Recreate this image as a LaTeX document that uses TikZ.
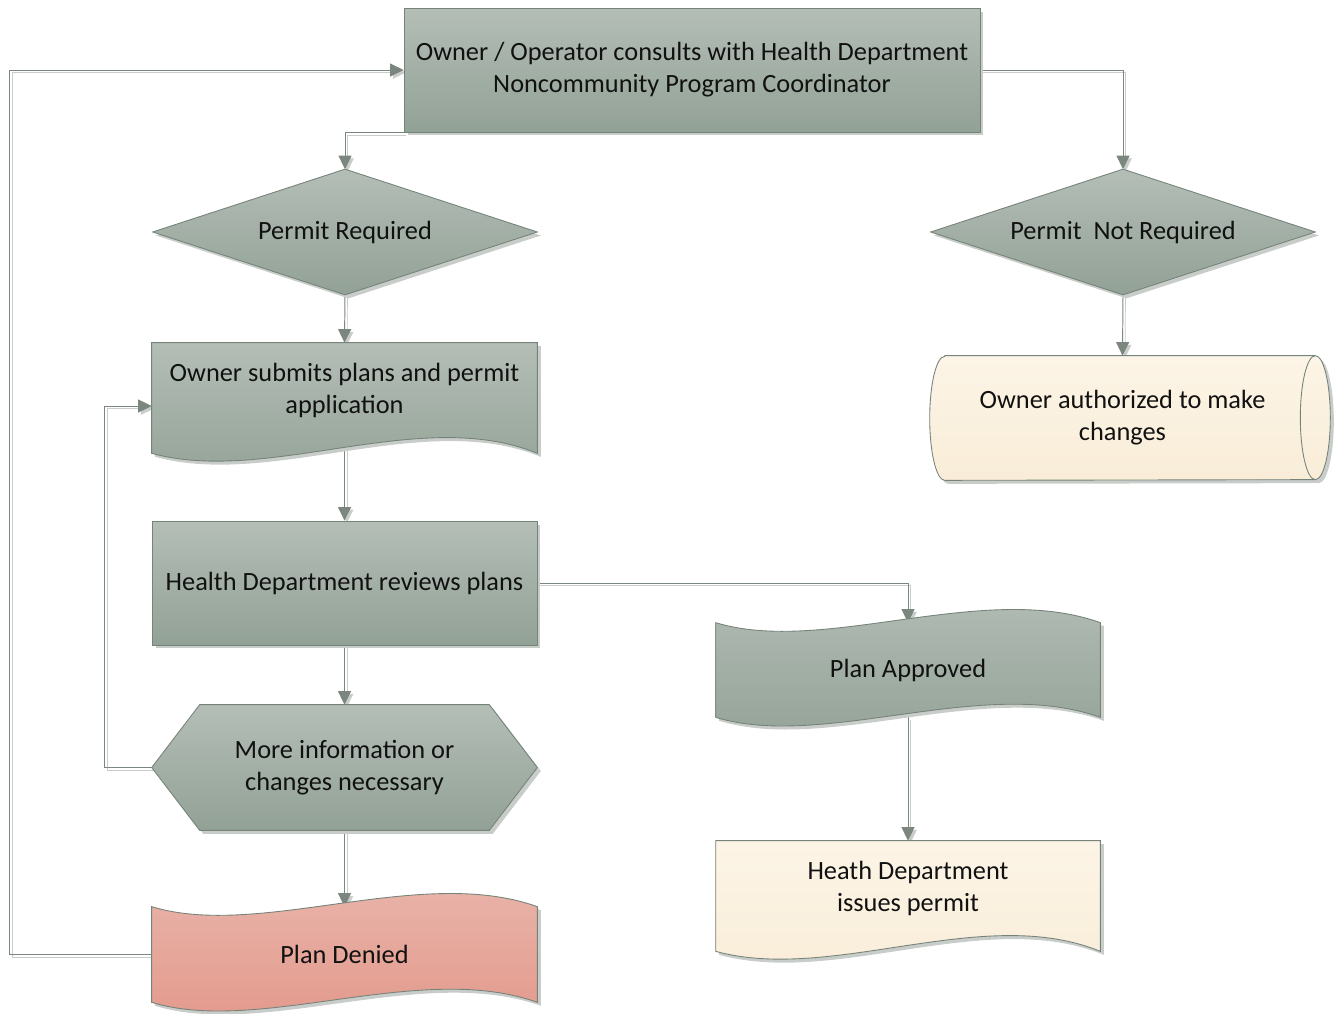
\documentclass[tikz,border=0pt]{standalone}
\usepackage{fontspec}
\setmainfont{Carlito}
\usetikzlibrary{positioning, arrows.meta, calc, shapes.geometric, shadows}
\definecolor{fcInk}{HTML}{111111}
\definecolor{fcEdge}{HTML}{76837A}
\definecolor{fcGrayTop}{HTML}{B4BEB7}
\definecolor{fcGrayBot}{HTML}{92A195}
\definecolor{fcRedTop}{HTML}{EAB7AD}
\definecolor{fcRedBot}{HTML}{E29789}
\definecolor{fcCreamTop}{HTML}{FCF4E6}
\definecolor{fcCreamBot}{HTML}{F9EDD8}
\definecolor{fcShadow}{HTML}{C9CDCA}
\definecolor{fcLine}{HTML}{7B877E}
\pgfdeclarelayer{links}
\pgfdeclarelayer{shapes}
\pgfsetlayers{links,shapes,main}
\tikzset{
  txt/.style      ={align=center, font=\fontsize{15}{18.2}\selectfont, text=fcInk, inner sep=0pt},
  shadowed/.style ={drop shadow={shadow xshift=0.07cm, shadow yshift=-0.07cm, fill=fcShadow, opacity=1}},
  greyfill/.style ={draw=fcEdge, line width=0.5pt, top color=fcGrayTop, bottom color=fcGrayBot, shadowed},
  redfill/.style  ={draw=fcEdge, line width=0.5pt, top color=fcRedTop, bottom color=fcRedBot, shadowed},
  creamfill/.style={draw=fcEdge, line width=0.5pt, top color=fcCreamTop, bottom color=fcCreamBot, shadowed},
  procbox/.style  ={txt, rectangle, greyfill},
  slot/.style     ={txt, rectangle},
  link/.style     ={draw=fcLine, line width=0.55pt, -{Triangle[length=0.27cm,width=0.26cm]},
                    preaction={draw=fcShadow, transform canvas={xshift=0.05cm,yshift=-0.05cm}}},
}
% outlines drawn round an (invisible) slot node
\newcommand{\diashape}[2]{%
  \path[#2] (#1.north) -- (#1.east) -- (#1.south) -- (#1.west) -- cycle;}
\newcommand{\docshape}[2]{%
  \path[#2] (#1.north west) -- (#1.north east) -- ([shift={(0,16)}]#1.south east)
    .. controls ([shift={(-117,-32)}]#1.south east) and ([shift={(117,48)}]#1.south west)
    .. ([shift={(0,16)}]#1.south west) -- cycle;}
\newcommand{\tapeshape}[2]{%
  \path[#2] (#1.north west) .. controls ([shift={(108,33)}]#1.north west) and ([shift={(-117,-42)}]#1.north east) .. (#1.north east)
    -- (#1.south east) .. controls ([shift={(-117,-42)}]#1.south east) and ([shift={(108,33)}]#1.south west) .. (#1.south west) -- cycle;}
\newcommand{\hexshape}[2]{%
  \path[#2] (#1.west) -- ([shift={(48,0)}]#1.north west) -- ([shift={(-48,0)}]#1.north east) -- (#1.east)
    -- ([shift={(-48,0)}]#1.south east) -- ([shift={(48,0)}]#1.south west) -- cycle;}
\newcommand{\storeshape}[2]{%
  \path[#2] ([shift={(15,0)}]#1.north west) -- (#1.north east) arc[start angle=90, end angle=-90, x radius=0.3cm, y radius=1.24cm]
    -- ([shift={(15,0)}]#1.south west) arc[start angle=270, end angle=90, x radius=0.3cm, y radius=1.24cm] -- cycle;
  \draw[fcEdge, line width=0.5pt] (#1.north east) arc[start angle=90, end angle=270, x radius=0.3cm, y radius=1.24cm];}

\begin{document}
\begin{tikzpicture}[x=0.02cm, y=-0.02cm]
\useasboundingbox (0,0) rectangle (1336,1014);

% top
\node[procbox, minimum width=11.52cm, minimum height=2.48cm] (consult) at (692,70)
   {Owner / Operator consults with Health Department\\Noncommunity Program Coordinator};
\node[slot, minimum width=7.68cm, minimum height=2.5cm] (req)   at (345,232)  {Permit Required};
\node[slot, minimum width=7.68cm, minimum height=2.5cm] (noreq) at (1123,232) {Permit\ \ Not Required};

% ---- left column ----
\node[slot, minimum width=7.7cm, minimum height=1.88cm] (submit) at (344.5,390) {Owner submits plans and permit\\application};
\node[procbox, minimum width=7.7cm, minimum height=2.48cm] (review) at (344.5,583) {Health Department reviews plans};
\node[slot, minimum width=7.7cm, minimum height=2.5cm] (moreinfo) at (344.5,767.5) {More information or\\changes necessary};
\node[slot, minimum width=7.7cm, minimum height=1.9cm] (denied) at (344.5,954.5) {Plan Denied};

% ---- right side ----
\node[slot, minimum width=7.7cm, minimum height=2.48cm] (authorized) at (1122.5,418) {Owner authorized to make\\changes};
\node[slot, minimum width=7.68cm, minimum height=1.88cm] (approved) at (908,670) {Plan Approved};
\node[slot, minimum width=7.68cm, minimum height=1.88cm] (issue) at (908,888) {Heath Department\\issues permit};

\begin{pgfonlayer}{shapes}
\diashape{req}{greyfill}
\diashape{noreq}{greyfill}
\docshape{submit}{greyfill}
\hexshape{moreinfo}{greyfill}
\tapeshape{denied}{redfill}
\storeshape{authorized}{creamfill}
\tapeshape{approved}{greyfill}
\docshape{issue}{creamfill}
\end{pgfonlayer}

\begin{pgfonlayer}{links}
\draw[link] (consult.south west) -| (req.north);
\draw[link] (consult.east) -| (noreq.north);
\draw[link] (req.south) -- (submit.north);
\draw[link] (submit.south) -- (review.north);
\draw[link] (review.south) -- (moreinfo.north);
\draw[link] (moreinfo.south) -- (denied.north);
\draw[link] (review.east) -| (approved.north);
\draw[link] (approved.south) -- (issue.north);
\draw[link] (noreq.south) -- (authorized.north);
% loops back
\draw[link] (moreinfo.west) -- ++(-47,0) |- ([shift={(0,16)}]submit.west);
\draw[link] (denied.west) -- ++(-142,0) |- (consult.west);
\end{pgfonlayer}
\end{tikzpicture}
\end{document}
